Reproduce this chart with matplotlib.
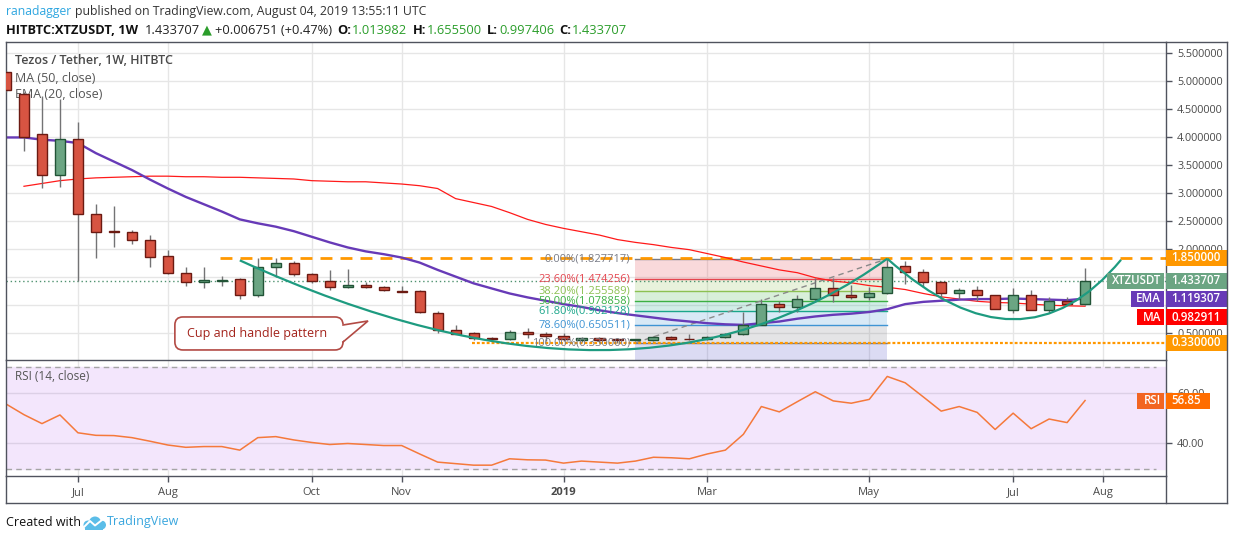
import matplotlib
matplotlib.use('Agg')
import matplotlib.pyplot as plt
import numpy as np
from matplotlib import transforms
from matplotlib.lines import Line2D
from matplotlib.patches import Rectangle, PathPatch, Polygon, FancyBboxPatch, Circle
from matplotlib.path import Path

W, H = 1234, 540
FONT = ['Open Sans', 'DejaVu Sans']
plt.rcParams['font.family'] = FONT

# weekly bars, week 0 = week of 2 Jul 2018
weeks = np.arange(-4, 57)
opens = [5.15, 4.76, 4.06, 3.32, 3.96, 2.62, 2.32, 2.30, 2.16, 1.87, 1.57, 1.41, 1.44, 1.46, 1.18,
         1.69, 1.75, 1.55, 1.43, 1.32, 1.36, 1.32, 1.26, 1.25, 0.87, 0.55, 0.50, 0.41, 0.39, 0.52,
         0.49, 0.46, 0.38, 0.41, 0.39, 0.38, 0.38, 0.43, 0.40, 0.39, 0.43, 0.48, 0.65, 1.03, 0.96,
         1.12, 1.30, 1.18, 1.15, 1.21, 1.70, 1.60, 1.41, 1.21, 1.28, 1.19, 0.92, 1.19, 0.92, 1.08,
         1.013982]
highs = [5.17, 4.80, 4.72, 4.68, 4.27, 2.80, 2.77, 2.34, 2.25, 1.98, 1.68, 1.68, 1.52, 1.48, 1.85,
         1.85, 1.79, 1.58, 1.63, 1.65, 1.41, 1.34, 1.34, 1.28, 0.90, 0.65, 0.52, 0.43, 0.55, 0.59,
         0.52, 0.50, 0.44, 0.43, 0.41, 0.40, 0.45, 0.45, 0.48, 0.45, 0.50, 0.88, 1.12, 1.08, 1.18,
         1.48, 1.48, 1.36, 1.32, 1.827717, 1.78, 1.64, 1.43, 1.31, 1.34, 1.19, 1.30, 1.27, 1.14, 1.14,
         1.6555]
lows = [4.80, 3.75, 3.09, 3.11, 1.44, 1.84, 2.03, 2.10, 1.68, 1.55, 1.35, 1.31, 1.35, 1.11, 1.14,
        1.50, 1.53, 1.39, 1.28, 1.31, 1.31, 1.25, 1.23, 0.87, 0.51, 0.48, 0.38, 0.38, 0.38, 0.41,
        0.37, 0.36, 0.35, 0.35, 0.33, 0.36, 0.37, 0.38, 0.38, 0.38, 0.42, 0.47, 0.64, 0.88, 0.88,
        1.05, 1.05, 1.11, 1.10, 1.20, 1.38, 1.33, 1.12, 1.12, 1.08, 0.93, 0.87, 0.92, 0.86, 1.01,
        0.997406]
closes = [4.84, 4.00, 3.32, 3.96, 2.63, 2.31, 2.30, 2.16, 1.86, 1.57, 1.41, 1.45, 1.45, 1.18, 1.69,
          1.75, 1.55, 1.43, 1.32, 1.36, 1.32, 1.27, 1.24, 0.88, 0.55, 0.49, 0.41, 0.39, 0.52, 0.48,
          0.46, 0.39, 0.42, 0.38, 0.38, 0.39, 0.43, 0.39, 0.39, 0.43, 0.48, 0.65, 1.03, 0.96, 1.12,
          1.30, 1.18, 1.15, 1.21, 1.68, 1.60, 1.41, 1.21, 1.28, 1.18, 0.93, 1.19, 0.92, 1.08, 1.02,
          1.433707]

ma_weeks = np.arange(-3, 57)
ma50 = [3.12, 3.17, 3.22, 3.25, 3.27, 3.28, 3.29, 3.30, 3.30, 3.29, 3.29, 3.28, 3.28, 3.27, 3.26,
        3.25, 3.22, 3.21, 3.20, 3.20, 3.18, 3.16, 3.13, 3.08, 2.90, 2.83, 2.76, 2.65, 2.53, 2.44,
        2.37, 2.31, 2.25, 2.17, 2.12, 2.08, 2.03, 1.99, 1.92, 1.85, 1.77, 1.70, 1.63, 1.58, 1.49,
        1.43, 1.40, 1.35, 1.32, 1.28, 1.21, 1.15, 1.11, 1.07, 1.05, 1.04, 1.02, 1.00, 0.99, 0.982911]
ema20 = [3.99, 3.99, 3.95, 3.93, 3.89, 3.71, 3.56, 3.41, 3.24, 3.08, 2.93, 2.80, 2.67, 2.53, 2.46,
         2.40, 2.32, 2.22, 2.12, 2.03, 1.96, 1.91, 1.85, 1.76, 1.63, 1.51, 1.39, 1.30, 1.21, 1.14,
         1.08, 1.02, 0.97, 0.91, 0.86, 0.82, 0.78, 0.74, 0.71, 0.68, 0.66, 0.65, 0.68, 0.71, 0.76,
         0.80, 0.83, 0.85, 0.88, 0.93, 1.02, 1.06, 1.08, 1.10, 1.11, 1.11, 1.12, 1.11, 1.10, 1.09,
         1.119307]
rsi = [55.5, 51.3, 47.8, 51.2, 44.2, 43.2, 43.1, 42.3, 40.9, 39.4, 38.5, 38.8, 38.8, 37.4, 42.3,
       42.7, 41.4, 40.4, 39.6, 40.0, 39.6, 39.2, 39.2, 35.9, 32.7, 32.1, 31.5, 31.5, 34.0, 33.6,
       33.5, 32.3, 33.1, 32.7, 32.3, 33.1, 34.6, 34.4, 34.0, 35.9, 37.4, 43.6, 54.5, 52.4, 56.4,
       60.3, 56.7, 55.8, 57.3, 66.3, 63.8, 58.3, 52.7, 54.5, 52.2, 45.5, 51.9, 45.8, 49.6, 48.2,
       56.85]

tick_weeks = [0, 5, 13, 18, 27, 35, 44, 52, 57]
tick_labels = ['Jul', 'Aug', 'Oct', 'Nov', '2019', 'Mar', 'May', 'Jul', 'Aug']
price_ticks = [0.5, 1.0, 1.5, 2.0, 2.5, 3.0, 3.5, 4.0, 4.5, 5.0, 5.5]
hidden_ticks = [1.0, 1.5]  # fully covered by the price tags in the original

# fibonacci retracement drawn between week 31 and week 45
fib_x = (31, 45)
fib_low, fib_high = 0.33, 1.827717
fib_ratios = [0.0, 0.236, 0.382, 0.5, 0.618, 0.786, 1.0, 1.618]
fib_colors = ['#787b86', '#e5454f', '#8cc152', '#3cb043', '#1aa68a', '#3f94d4', '#787b86', '#4b4bc4']

resistance, res_from = 1.85, 7.9
support, sup_from = 0.33, 21.9
cup_ctrl = [(9.0, 1.80), (31.0, -1.415), (45.0, 1.83)]
handle_ctrl = [(45.0, 1.83), (52.5, -0.32), (58.0, 1.81)]

# callout: box corners and tail (week, price)
callout_box = (5.39, 0.203, 14.74, 0.791)
callout_tail = [(14.74, 0.648), (16.13, 0.72), (14.74, 0.345)]
callout_label = 'Cup and handle pattern'

last_price, last_ema, last_ma, last_rsi = 1.433707, 1.119307, 0.982911, 56.85
ma_tag_at = 0.79  # the MA tag is pushed down below the EMA tag

UP, UP_EDGE = '#6ba583', '#225437'
DN, DN_EDGE = '#d75442', '#6b1a12'
WICK = '#737375'
FRAME = '#50535e'
TXT = '#4a4a4a'


def fx(px):
    return px / W


def fy(py):
    return 1 - py / H


fig = plt.figure(figsize=(W / 100, H / 100), dpi=100)
ax = fig.add_axes([fx(6), fy(360), fx(1160), 318 / H])
ax2 = fig.add_axes([fx(6), fy(476), fx(1160), 116 / H], sharex=ax)

XMIN, XMAX = -4.0, 60.5
YMIN, YMAX = 0.0242, 5.691
ax.set_xlim(XMIN, XMAX)
ax.set_ylim(YMIN, YMAX)
ax2.set_ylim(27.25, 72.75)

for a in (ax, ax2):
    for s in a.spines.values():
        s.set_color(FRAME)
        s.set_linewidth(1)
    for t in tick_weeks:
        a.axvline(t, color='#e6e6e6', lw=1, zorder=0)
ax.spines['bottom'].set_visible(False)

# main pane grid + price axis
for p in price_ticks:
    ax.axhline(p, color='#e6e6e6', lw=1, zorder=0)
ax.yaxis.tick_right()
ax.set_yticks(price_ticks)
ax.set_yticklabels(['' if p in hidden_ticks else '%.6f' % p for p in price_ticks])
ax.tick_params(axis='y', length=4, width=1, color=FRAME, labelsize=7.8, labelcolor=TXT, pad=4)
ax.tick_params(axis='x', bottom=False, labelbottom=False)

# fibonacci retracement
span = fib_high - fib_low
levels = [fib_high - r * span for r in fib_ratios]
for k in range(1, len(levels)):
    ax.fill_between(fib_x, levels[k - 1], levels[k], color=fib_colors[k],
                    alpha=0.2, lw=0, zorder=1)
for r, lv, c in zip(fib_ratios[:-1], levels[:-1], fib_colors[:-1]):
    ax.plot(fib_x, [lv, lv], color=c, lw=1, zorder=1.5)
    ax.text(fib_x[0] - 0.3, lv, '%.2f%%(%.6f)' % (r * 100, lv), color=c, fontsize=8,
            ha='right', va='center', zorder=6)
ax.plot(fib_x, [fib_low, fib_high], color='#8a8a8a', lw=1, ls=(0, (4, 3)), zorder=1.6)

# horizontal levels
ax.axhline(last_price, color='#4f9270', lw=1, ls=(0, (1, 2)), zorder=1.7)
ax.plot([res_from, XMAX], [resistance, resistance], color='#ff9800', lw=2,
        dashes=(4.3, 2.9), zorder=1.8)
ax.plot([sup_from, XMAX], [support, support], color='#ff9800', lw=1.6,
        dashes=(1.3, 0.9), zorder=1.8)

# moving averages
ax.plot(ma_weeks, ma50, color='#ff1a1a', lw=0.9, zorder=2)
ax.plot(weeks, ema20, color='#673ab7', lw=1.7, zorder=2.1)

# candles
opens, highs, lows, closes = map(np.array, (opens, highs, lows, closes))
up = closes >= opens
ax.vlines(weeks, lows, highs, color=WICK, lw=1, zorder=3)
ax.bar(weeks, np.abs(closes - opens), bottom=np.minimum(opens, closes), width=0.56,
       color=np.where(up, UP, DN), edgecolor=np.where(up, UP_EDGE, DN_EDGE),
       linewidth=1, zorder=3.5)


# cup and handle curves
def bezier(ctrl):
    return PathPatch(Path(ctrl, [Path.MOVETO, Path.CURVE3, Path.CURVE3]), fc='none',
                     ec='#1e9b80', lw=1.6, zorder=4)


ax.add_patch(bezier(cup_ctrl))
ax.add_patch(bezier(handle_ctrl))

# callout box with a tail
px_x = (XMAX - XMIN) / 1160
px_y = (YMAX - YMIN) / 318
bx0, by0, bx1, by1 = callout_box
ax.add_patch(FancyBboxPatch((bx0, by0), bx1 - bx0, by1 - by0,
                            boxstyle='round,pad=0,rounding_size=%.3f' % (8 * px_x),
                            mutation_aspect=px_y / px_x, fc='white', ec='#b24a44',
                            lw=1.2, zorder=7))
(tx0, ty0), tip, (tx1, ty1) = callout_tail
ax.add_patch(Polygon([(tx0 - 0.12, ty0 + 0.01), tip, (tx1 - 0.12, ty1 - 0.01)], closed=True,
                     fc='white', ec='none', zorder=7.1))
ax.plot([tx0, tip[0], tx1], [ty0, tip[1], ty1], color='#b24a44', lw=1.2, zorder=7.2,
        solid_joinstyle='miter')
ax.text((bx0 + bx1) / 2 - 0.1, (by0 + by1) / 2, callout_label, ha='center', va='center',
        fontsize=9, color='#a3231b', zorder=7.3)

# legend texts
ax.text(9 / 1160, 1 - 18 / 318, 'Tezos / Tether, 1W, HITBTC',
        transform=ax.transAxes, fontsize=9, color=TXT, fontweight='semibold', va='center')
ax.text(9 / 1160, 1 - 36 / 318, 'MA (50, close)', transform=ax.transAxes,
        fontsize=9, color='#555555', va='center')
ax.text(9 / 1160, 1 - 53 / 318, 'EMA (20, close)', transform=ax.transAxes,
        fontsize=9, color='#555555', va='center')

# RSI pane
ax2.axhspan(30, 70, color='#f3e6fc', zorder=0)
for a_ in (60, 40):
    ax2.axhline(a_, color='#dcd0e6', lw=1, zorder=0.5)
for a_ in (70, 30):
    ax2.axhline(a_, xmax=(59.95 - XMIN) / (XMAX - XMIN), color='#a5a5a5', lw=1,
                ls=(0, (4, 3)), zorder=0.6)
ax2.plot(weeks, rsi, color='#f5793b', lw=1.1, zorder=2)
ax2.text(9 / 1160, 1 - 17 / 116, 'RSI (14, close)', transform=ax2.transAxes,
         fontsize=8.5, color='#555555', va='center')
ax2.yaxis.tick_right()
ax2.set_yticks([40, 60])
ax2.set_yticklabels(['40.00', '60.00'])
ax2.tick_params(axis='y', length=4, width=1, color=FRAME, labelsize=7.8, labelcolor=TXT, pad=4)
ax2.set_xticks(tick_weeks)
ax2.set_xticklabels(tick_labels)
ax2.tick_params(axis='x', length=4, width=1, color=FRAME, labelsize=8, labelcolor=TXT, pad=4)
for lab in ax2.get_xticklabels():
    if lab.get_text() == '2019':
        lab.set_fontweight('bold')

# price-axis tags
rsi_h = (72.75 - 27.25) / 116


def tag(a, unit, y, text, color, x0, x1, label=None, lx0=None, lcolor=None):
    tr = transforms.blended_transform_factory(fig.transFigure, a.transData)
    a.add_patch(Rectangle((fx(x0), y - 8 * unit), fx(x1 - x0), 16 * unit, transform=tr,
                          fc=color, ec='none', clip_on=False, zorder=8))
    a.text(fx(x0 + 5), y, text, transform=tr, color='white', fontsize=8.3,
           fontweight='semibold', va='center', ha='left', zorder=9, clip_on=False)
    if label:
        a.add_patch(Rectangle((fx(lx0), y - 8 * unit), fx(1164 - lx0), 16 * unit, transform=tr,
                              fc=lcolor or color, ec='none', clip_on=False, zorder=8))
        a.text(fx(1161), y, label, transform=tr, color='white', fontsize=8.3,
               fontweight='semibold', va='center', ha='right', zorder=9, clip_on=False)


tag(ax, px_y, resistance, '%.6f' % resistance, '#ff9800', 1166, 1227)
tag(ax, px_y, support, '%.6f' % support, '#ff9800', 1166, 1227)
tag(ax, px_y, last_price, '%.6f' % last_price, '#6ba583', 1166, 1227, 'XTZUSDT', 1107)
tag(ax, px_y, last_ema, '%.6f' % last_ema, '#673ab7', 1166, 1227, 'EMA', 1131)
tag(ax, px_y, ma_tag_at, '%.6f' % last_ma, '#ff0000', 1166, 1227, 'MA', 1137)
tag(ax2, rsi_h, last_rsi, '%.2f' % last_rsi, '#ff6d00', 1166, 1210, 'RSI', 1137, '#f26522')

# outer frame pieces outside the axes
frame = [((1166, 1227), (42, 42)), ((1227, 1227), (42, 503)), ((6, 1227), (503, 503)),
         ((6, 6), (476, 503)), ((1166, 1166), (476, 503))]
for xs, ys in frame:
    fig.add_artist(Line2D([fx(v) for v in xs], [fy(v) for v in ys], color=FRAME, lw=1))


# header lines, drawn segment by segment
def chain(x, y, parts, size):
    r = fig.canvas.get_renderer()
    for s, color, weight, gap, fam in parts:
        t = fig.text(fx(x), fy(y), s, color=color, fontweight=weight, fontsize=size,
                     va='center', ha='left', family=fam)
        x += t.get_window_extent(renderer=r).width + gap


GREEN = '#2a9d2a'
chain(6, 12, [('ranadagger', '#2ea6e0', 'normal', 4, FONT),
              ('published on TradingView.com, August 04, 2019 13:55:11 UTC', '#333333',
               'normal', 0, FONT)], 8.8)
chain(6, 30, [('HITBTC:XTZUSDT, 1W', '#111111', 'bold', 7, FONT),
              ('1.433707', '#222222', 'normal', 2, FONT),
              ('\u25b2', GREEN, 'normal', 3, ['DejaVu Sans']),
              ('+0.006751 (+0.47%)', '#222222', 'normal', 5, FONT),
              ('O:', '#111111', 'bold', 1, FONT), ('1.013982', GREEN, 'normal', 5, FONT),
              ('H:', '#111111', 'bold', 1, FONT), ('1.655500', GREEN, 'normal', 5, FONT),
              ('L:', '#111111', 'bold', 1, FONT), ('0.997406', GREEN, 'normal', 5, FONT),
              ('C:', '#111111', 'bold', 1, FONT), ('1.433707', GREEN, 'normal', 0, FONT)], 9.3)

# footer with a small cloud logo
fig.text(fx(6), fy(522), 'Created with', fontsize=9, color='#111111', va='center')
lax = fig.add_axes([fx(82), fy(530), fx(24), 16 / H])
lax.set_xlim(0, 24)
lax.set_ylim(0, 16)
lax.axis('off')
for cx, cy, rr in [(6, 5, 4.5), (13, 7.5, 6), (19.5, 5, 4.5)]:
    lax.add_patch(Circle((cx, cy), rr, fc='#5bbde8', ec='none'))
lax.add_patch(Rectangle((3, 0.5), 18, 4, fc='#5bbde8', ec='none'))
lax.plot([2, 8, 13, 20], [3, 9, 4.5, 10], color='white', lw=1.4)
fig.text(fx(107), fy(522), 'TradingView', fontsize=9, color='#39a6de', va='center')

fig.savefig('out.png', dpi=100)
